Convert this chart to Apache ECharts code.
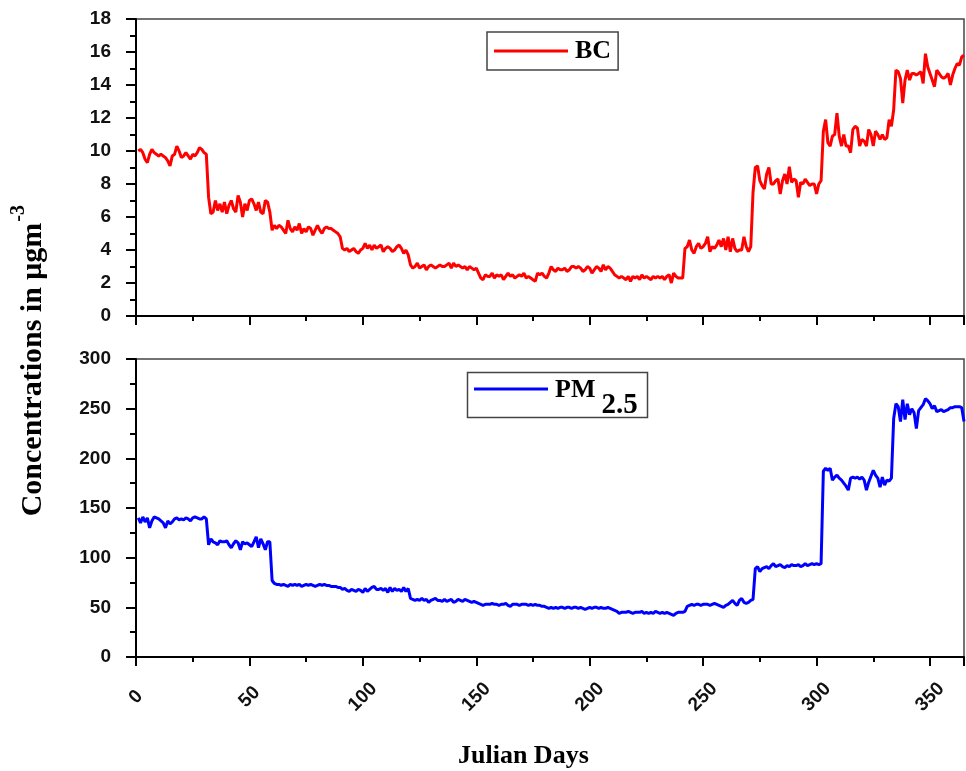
<!DOCTYPE html>
<html>
<head>
<meta charset="utf-8">
<script src="https://cdn.jsdelivr.net/npm/echarts@6/dist/echarts.min.js"></script>
<style>
html,body{margin:0;padding:0;background:#fff;}
#chart{width:966px;height:771px;}
</style>
</head>
<body>
<div id="chart"></div>
<script>
// Julian days 1..365
const dayCount = 365;
const xTicks = [0, 50, 100, 150, 200, 250, 300, 350];
const bcTicks = [0, 2, 4, 6, 8, 10, 12, 14, 16, 18];
const pmTicks = [0, 50, 100, 150, 200, 250, 300];

const bcValues = [
  10.0, 10.1, 9.9, 9.5, 9.3, 9.8, 10.1, 9.9, 9.8, 9.7,
  9.8, 9.7, 9.6, 9.4, 9.1, 9.7, 9.8, 10.3, 10.0, 9.6,
  9.7, 9.9, 9.7, 9.5, 9.8, 9.7, 9.9, 10.2, 10.1, 9.9,
  9.8, 7.2, 6.2, 6.3, 7.0, 6.4, 6.8, 6.3, 6.9, 6.2,
  6.7, 7.0, 6.5, 6.3, 7.3, 6.9, 6.0, 6.8, 6.4, 7.0,
  7.1, 6.8, 6.4, 6.9, 6.3, 6.2, 7.0, 6.9, 6.3, 5.2,
  5.5, 5.3, 5.5, 5.4, 5.2, 5.0, 5.8, 5.3, 5.1, 5.4,
  5.2, 5.6, 5.0, 5.3, 5.1, 5.4, 5.3, 4.9, 5.2, 5.5,
  5.2, 5.0, 5.3, 5.4, 5.3, 5.3, 5.2, 5.1, 5.0, 4.8,
  4.1, 4.0, 4.1, 3.9, 4.0, 4.1, 3.9, 3.8, 4.0, 4.1,
  4.4, 4.1, 4.3, 4.0, 4.3, 4.1, 4.2, 4.3, 3.9, 4.1,
  4.2, 4.1, 3.9, 4.0, 4.2, 4.3, 4.1, 3.8, 4.0, 3.7,
  3.1, 2.9, 3.0, 3.2, 2.9, 3.0, 3.1, 2.8, 3.0, 3.1,
  3.0, 2.9, 3.0, 3.1, 3.0, 3.0, 3.1, 3.2, 2.9, 3.2,
  3.0, 3.1, 3.0, 2.9, 3.0, 2.8, 3.0, 2.9, 2.8, 2.9,
  2.6, 2.3, 2.2, 2.5, 2.4, 2.4, 2.6, 2.3, 2.5, 2.4,
  2.5, 2.2, 2.4, 2.6, 2.4, 2.5, 2.3, 2.4, 2.5, 2.4,
  2.6, 2.3, 2.4, 2.3, 2.2, 2.1, 2.6, 2.5, 2.6, 2.4,
  2.3, 2.6, 3.0, 2.8, 2.7, 2.9, 2.8, 2.8, 2.9, 2.7,
  2.8, 3.0, 3.0, 2.9, 3.0, 2.9, 2.7, 2.8, 3.0, 2.9,
  2.6, 2.8, 3.0, 2.9, 2.7, 3.1, 2.8, 3.0, 2.9, 2.7,
  2.5, 2.4, 2.3, 2.4, 2.3, 2.2, 2.4, 2.1, 2.4, 2.3,
  2.4, 2.2, 2.5, 2.3, 2.4, 2.3, 2.2, 2.4, 2.3, 2.4,
  2.3, 2.4, 2.2, 2.4, 2.5, 2.0, 2.6, 2.4, 2.3, 2.3,
  2.3, 4.1, 4.2, 4.6, 4.0, 3.8, 4.2, 4.4, 4.1, 4.2,
  4.4, 4.8, 3.9, 4.2, 4.1, 4.3, 4.6, 4.2, 4.7, 4.0,
  4.8, 3.9, 4.7, 4.1, 3.9, 4.0, 4.0, 4.8, 4.2, 3.9,
  4.2, 7.5, 9.0, 9.1, 8.2, 7.9, 7.7, 8.6, 9.0, 8.0,
  8.0, 8.2, 8.3, 7.4, 8.2, 8.6, 8.0, 9.05, 8.1, 8.3,
  8.2, 7.2, 8.1, 8.0, 8.3, 8.1, 7.9, 8.0, 8.0, 7.4,
  8.0, 8.2, 11.2, 11.9, 10.5, 10.3, 10.9, 11.0, 12.3, 10.9,
  10.3, 11.0, 10.3, 10.3, 9.9, 11.3, 11.5, 11.4, 10.3, 10.7,
  10.6, 10.3, 11.3, 11.0, 10.3, 11.2, 11.0, 10.7, 11.0, 10.7,
  10.8, 11.9, 11.5, 12.5, 14.9, 14.8, 14.4, 12.9, 14.3, 14.9,
  14.3, 14.7, 14.7, 14.6, 14.7, 14.8, 14.1, 15.9, 15.1, 14.7,
  14.3, 13.9, 14.9, 14.7, 14.5, 14.4, 14.5, 14.7, 14.0, 14.6,
  15.0, 15.3, 15.2, 15.7, 15.8
];

const pmValues = [
  140, 135, 141, 136, 140, 130, 137, 141, 140, 139,
  137, 135, 130, 137, 134, 136, 139, 140, 138, 139,
  138, 140, 139, 137, 140, 141, 140, 139, 139, 141,
  139, 113, 119, 116, 115, 113, 117, 116, 116, 117,
  113, 110, 114, 117, 115, 108, 116, 114, 115, 113,
  111, 116, 121, 110, 119, 114, 108, 116, 116, 77,
  74, 73, 73, 72, 73, 72, 71, 73, 72, 73,
  72, 73, 71, 72, 73, 72, 73, 72, 71, 72,
  73, 72, 73, 72, 72, 71, 71, 71, 70, 70,
  68, 69, 67, 66, 68, 67, 66, 68, 67, 65,
  69, 66, 68, 70, 71, 68, 68, 69, 67, 69,
  65, 70, 66, 69, 67, 68, 66, 70, 66, 69,
  59, 58, 57, 58, 57, 59, 57, 58, 55, 57,
  58, 59, 57, 57, 56, 58, 56, 57, 58, 55,
  56, 58, 57, 56, 58, 57, 56, 55, 56, 55,
  54, 53, 52, 53, 53, 53, 54, 53, 53, 52,
  53, 53, 54, 52, 51, 53, 53, 53, 52, 53,
  53, 53, 52, 53, 52, 53, 52, 52, 51, 51,
  50, 49, 50, 49, 50, 49, 50, 50, 49, 50,
  50, 49, 50, 50, 49, 50, 49, 48, 49, 50,
  49, 50, 50, 49, 50, 49, 49, 50, 49, 48,
  47, 46, 44, 45, 45, 45, 46, 45, 44, 45,
  45, 45, 46, 44, 45, 44, 45, 44, 46, 45,
  44, 45, 44, 45, 44, 43, 42, 44, 45, 45,
  45, 46, 51, 52, 53, 52, 53, 53, 52, 53,
  53, 53, 52, 53, 54, 53, 52, 51, 50, 52,
  53, 55, 57, 54, 52, 57, 59, 55, 54, 55,
  57, 58, 89, 91, 86, 89, 90, 91, 89, 92,
  94, 91, 92, 93, 91, 90, 92, 91, 93, 92,
  92, 93, 91, 92, 94, 92, 93, 94, 93, 94,
  93, 94, 187, 190, 188, 190, 178, 181, 183, 180,
  178, 175, 172, 168, 180, 181, 180, 181, 179, 181,
  178, 168, 176, 182, 188, 183, 180, 171, 181, 173,
  178, 177, 180, 240, 255, 252, 237, 259, 239, 255,
  244, 250, 246, 230, 248, 251, 254, 260, 258, 255,
  250, 253, 247, 248, 249, 247, 248, 249, 251, 251,
  252, 252, 252, 251, 237
];

const days = [];
for (let d = 1; d <= dayCount; d++) days.push(d);
const bcData = days.map((d, i) => [d, bcValues[i]]);
const pmData = days.map((d, i) => [d, pmValues[i]]);

const chart = echarts.init(document.getElementById('chart'), null, {renderer: 'canvas'});

const tickFont = {fontFamily: 'Liberation Sans, Arial', fontWeight: 'bold', fontSize: 19, color: '#111'};
const serif = 'Liberation Serif, Times New Roman, serif';

function xAxisCfg(gridIndex, showLabels) {
  return {
    type: 'value', gridIndex: gridIndex, min: xTicks[0], max: 365, interval: 50,
    axisLine: {show: true, onZero: false, lineStyle: {color: '#000', width: 2}},
    axisTick: {show: true, inside: false, length: 9, lineStyle: {color: '#000', width: 2}},
    minorTick: {show: true, splitNumber: 2, length: 5, lineStyle: {color: '#000', width: 2}},
    splitLine: {show: false},
    axisLabel: showLabels ? Object.assign({
      show: true, rotate: 45, align: 'center', verticalAlign: 'middle', margin: 40,
      showMaxLabel: false,
      formatter: v => xTicks.indexOf(v) >= 0 ? String(v) : ''
    }, tickFont) : {show: false}
  };
}
function yAxisCfg(gridIndex, ticks) {
  const step = ticks[1] - ticks[0];
  return {
    type: 'value', gridIndex: gridIndex, min: ticks[0], max: ticks[ticks.length - 1], interval: step,
    axisLine: {show: true, onZero: false, lineStyle: {color: '#000', width: 2}},
    axisTick: {show: true, inside: false, length: 10, lineStyle: {color: '#000', width: 2}},
    minorTick: {show: true, splitNumber: 2, length: 6, lineStyle: {color: '#000', width: 2}},
    splitLine: {show: false},
    axisLabel: Object.assign({show: true, margin: 25}, tickFont)
  };
}

const option = {
  backgroundColor: '#fff',
  animation: false,
  grid: [
    {left: 136, top: 19, width: 828, height: 297, show: true, borderColor: '#444', borderWidth: 1.5, backgroundColor: 'transparent'},
    {left: 136, top: 359, width: 828, height: 298, show: true, borderColor: '#444', borderWidth: 1.5, backgroundColor: 'transparent'}
  ],
  xAxis: [xAxisCfg(0, false), xAxisCfg(1, true)],
  yAxis: [yAxisCfg(0, bcTicks), yAxisCfg(1, pmTicks)],
  legend: [
    {
      data: [{name: 'BC', icon: 'rect'}], left: 487, top: 32,
      itemWidth: 74, itemHeight: 3, itemGap: 0,
      padding: [6, 7, 6, 7], borderColor: '#444', borderWidth: 1.5,
      selectedMode: false,
      textStyle: {fontFamily: serif, fontWeight: 'bold', fontSize: 26, color: '#000', padding: [0, 0, 0, 2]}
    },
    {
      data: [{name: 'PM2.5', icon: 'rect'}], left: 474, top: 374,
      itemWidth: 74, itemHeight: 3, itemGap: 0,
      padding: 0,
      selectedMode: false,
      formatter: function (name) { return '{a|PM}{b|2.5}'; },
      textStyle: {
        fontFamily: serif, fontWeight: 'bold', fontSize: 26, color: '#000',
        rich: {
          a: {fontFamily: serif, fontWeight: 'bold', fontSize: 26, lineHeight: 30, color: '#000', verticalAlign: 'top', padding: [3, 6, 0, 2]},
          b: {fontFamily: serif, fontWeight: 'bold', fontSize: 29, lineHeight: 30, color: '#000', verticalAlign: 'top', padding: [17, 0, 0, 0]}
        }
      }
    }
  ],
  graphic: [
    {
      type: 'rect', left: 465, top: 370, z: 10, silent: true,
      shape: {width: 180, height: 45},
      style: {fill: 'none', stroke: '#444', lineWidth: 1.5}
    },
    {
      type: 'text', left: 9, top: 205, rotation: Math.PI / 2,
      style: {
        text: '{m|Concentrations in μgm}{s|-3}',
        rich: {
          m: {fontFamily: serif, fontWeight: 'bold', fontSize: 30, fill: '#000', padding: [11, 0, 0, 0]},
          s: {fontFamily: serif, fontWeight: 'bold', fontSize: 20, fill: '#000', padding: [0, 0, 17, 1]}
        }
      }
    },
    {
      type: 'text', left: 458, top: 743,
      style: {text: 'Julian Days', fontFamily: serif, fontWeight: 'bold', fontSize: 26, fill: '#000'}
    }
  ],
  series: [
    {
      name: 'BC', type: 'line', xAxisIndex: 0, yAxisIndex: 0, data: bcData,
      showSymbol: false, symbol: 'none', color: '#ff0000',
      lineStyle: {color: '#ff0000', width: 3}
    },
    {
      name: 'PM2.5', type: 'line', xAxisIndex: 1, yAxisIndex: 1, data: pmData,
      showSymbol: false, symbol: 'none', color: '#0000ff',
      lineStyle: {color: '#0000ff', width: 3}
    }
  ]
};
chart.setOption(option);
</script>
</body>
</html>
